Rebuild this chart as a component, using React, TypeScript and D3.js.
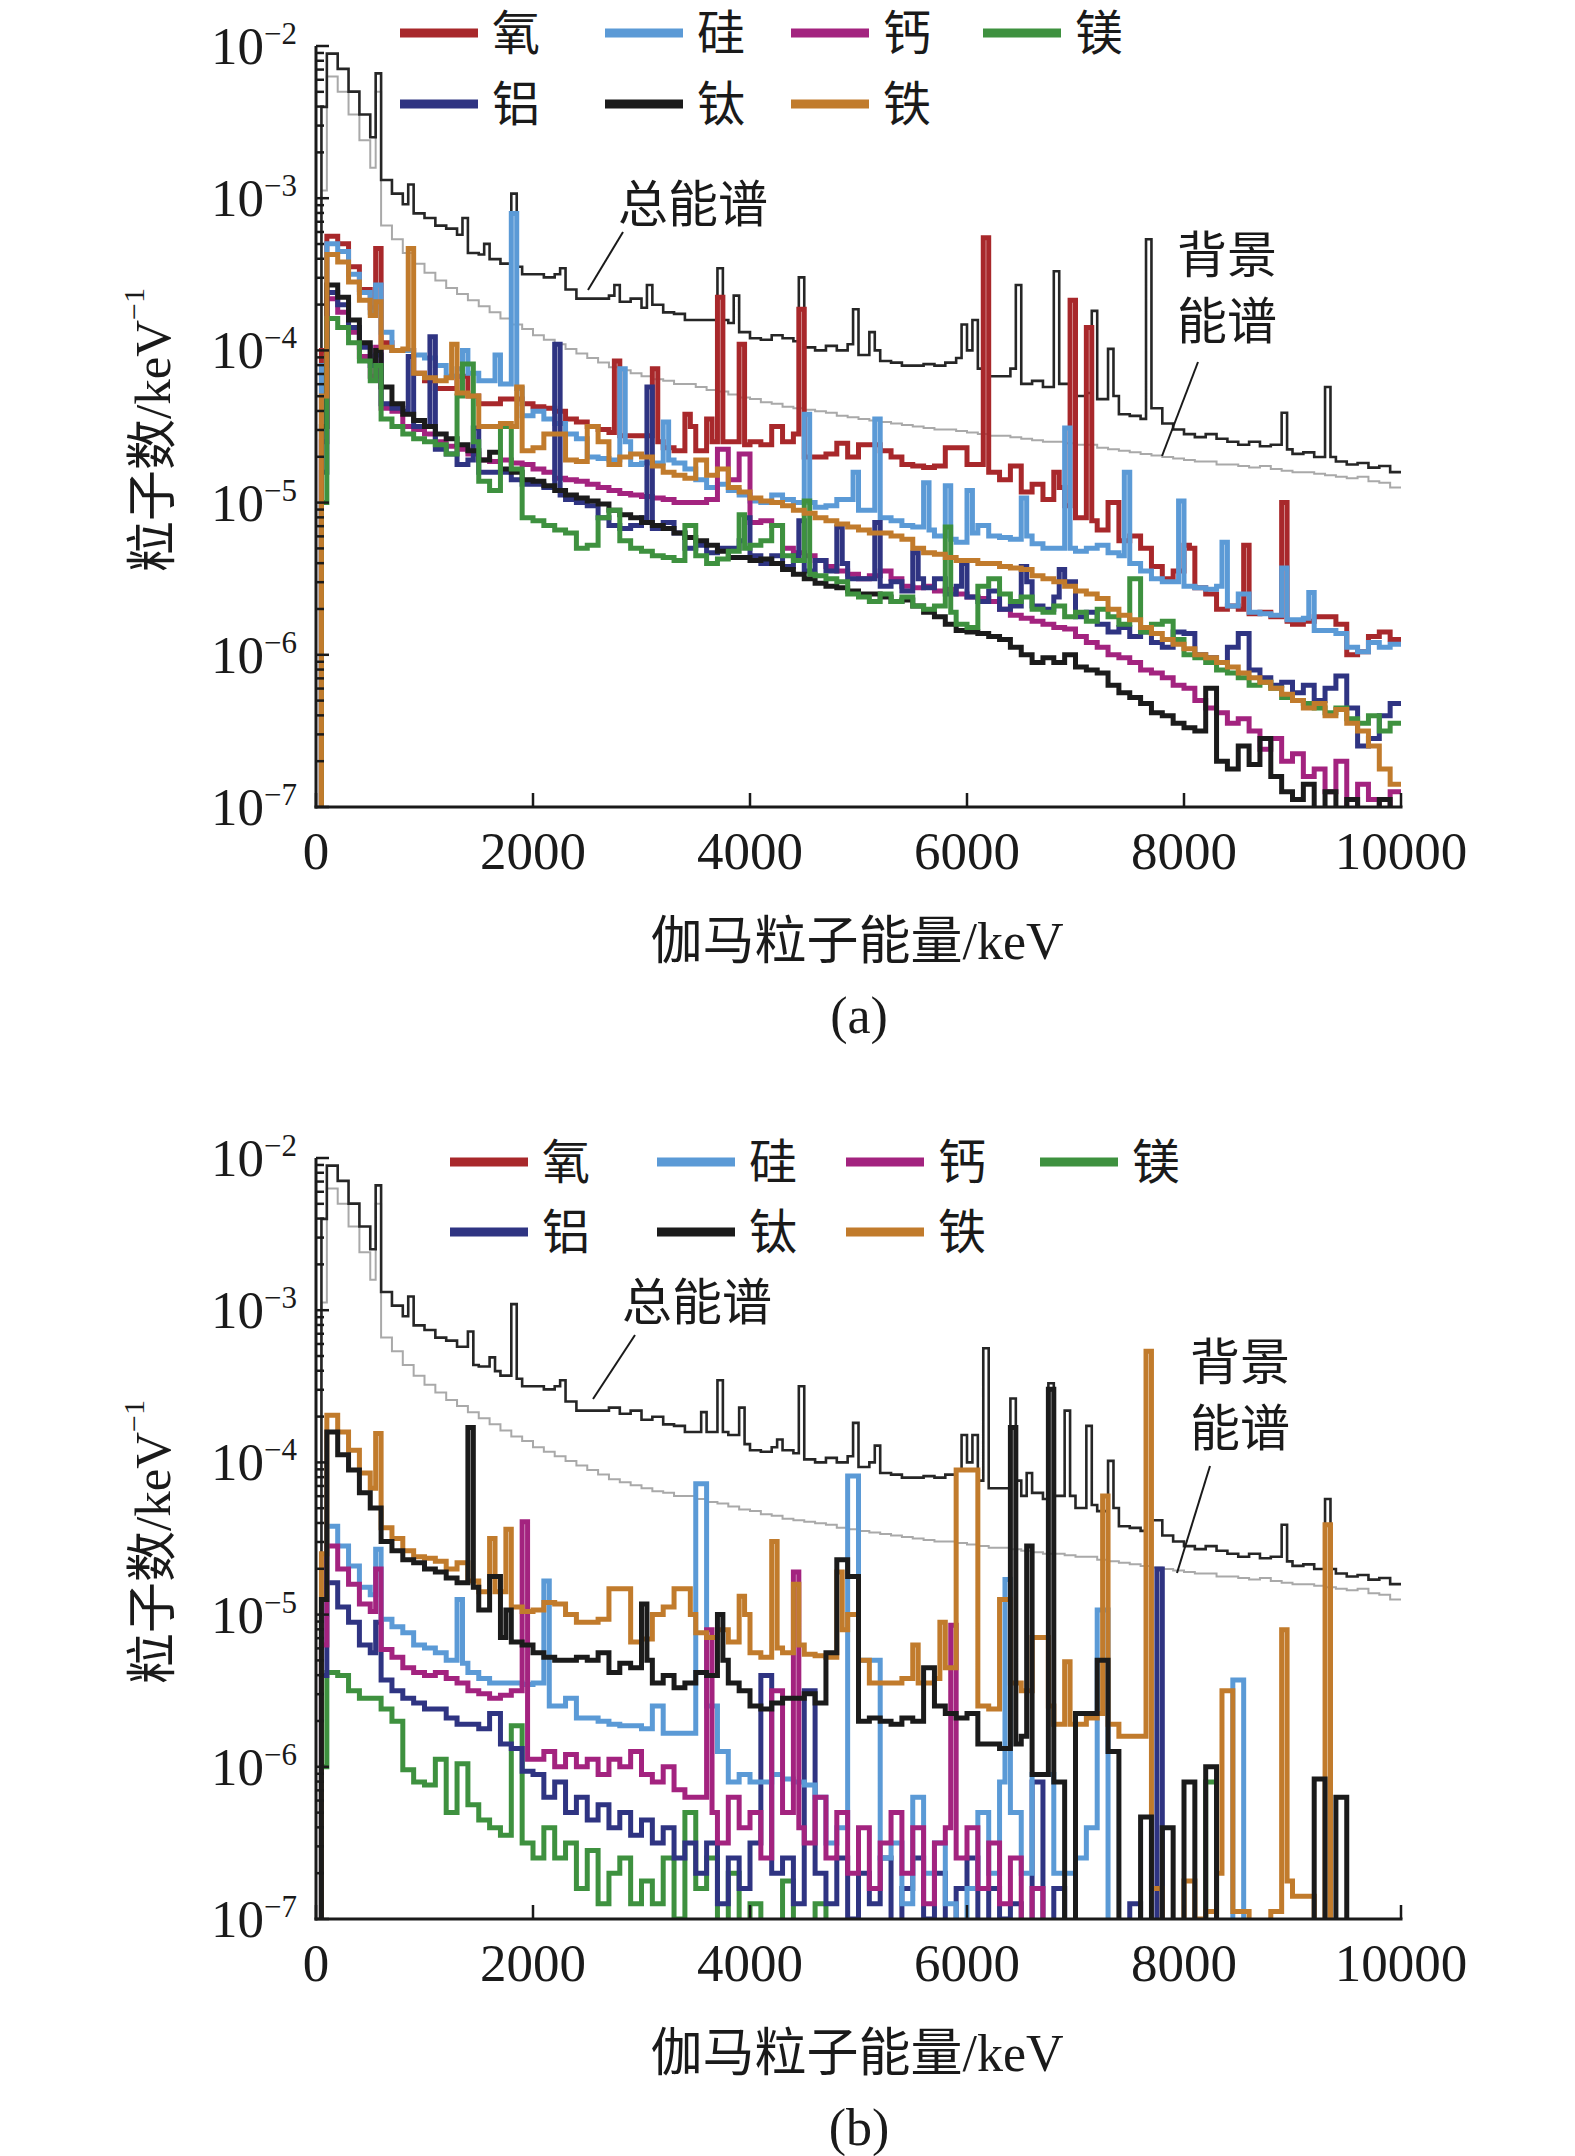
import * as d3 from 'd3'

// log10 of counts per keV, one value per 100 keV bin (0–10000 keV)
// peaks: [start keV, log10 value] for the narrow 50 keV lines

const TOTAL = [
  -7.5, -2.05, -2.15, -2.3, -2.45, -2.6, -2.88, -2.97, -3.04, -3.1,
  -3.13, -3.18, -3.2, -3.24, -3.36, -3.37, -3.4, -3.43, -3.45, -3.5,
  -3.5, -3.52, -3.5, -3.6, -3.66, -3.66, -3.66, -3.64, -3.68, -3.66,
  -3.72, -3.7, -3.75, -3.76, -3.8, -3.8, -3.8, -3.8, -3.82, -3.88,
  -3.92, -3.93, -3.9, -3.92, -3.94, -3.98, -4.0, -3.97, -4.0, -3.96,
  -4.03, -4.0, -4.07, -4.08, -4.1, -4.1, -4.09, -4.1, -4.08, -4.05,
  -4.0, -4.12, -4.17, -4.17, -4.12, -4.22, -4.2, -4.24, -4.22, -4.22,
  -4.3, -4.28, -4.32, -4.3, -4.42, -4.43, -4.45, -4.38, -4.48, -4.52,
  -4.55, -4.57, -4.55, -4.58, -4.6, -4.62, -4.6, -4.63, -4.62, -4.65,
  -4.68, -4.67, -4.7, -4.7, -4.73, -4.75, -4.74, -4.77, -4.76, -4.8,
]
const TOTAL_PEAKS_A = [
  [50, -2.4], [550, -2.18], [850, -2.91], [1350, -3.13], [1550, -3.3], [1800, -2.97],
  [2250, -3.46], [2750, -3.57], [3050, -3.57], [3700, -3.46], [3850, -3.64], [4450, -3.52],
  [4950, -3.73], [5100, -3.88], [5950, -3.83], [6050, -3.8], [6150, -3.26], [6450, -3.57],
  [6800, -3.48], [6950, -3.67], [7150, -3.74], [7300, -3.99], [7650, -3.27], [8900, -4.41],
  [9300, -4.24],
]
const TOTAL_PEAKS_B = [
  [50, -2.4], [550, -2.18], [850, -2.91], [1400, -3.14], [1600, -3.31], [1800, -2.96],
  [2250, -3.46], [3550, -3.67], [3700, -3.46], [3900, -3.64], [4250, -3.85], [4450, -3.5],
  [4950, -3.74], [5150, -3.89], [5950, -3.82], [6050, -3.82], [6150, -3.25], [6400, -3.58],
  [6550, -4.07], [6750, -3.48], [6900, -3.66], [7100, -3.76], [7300, -3.99], [7650, -3.27],
  [8900, -4.41], [9300, -4.24],
]

const BACKGROUND = [
  -7.5, -2.2, -2.3, -2.45, -2.62, -2.8, -3.18, -3.27, -3.36, -3.43,
  -3.49, -3.54, -3.59, -3.63, -3.67, -3.71, -3.75, -3.79, -3.83, -3.86,
  -3.9, -3.93, -3.96, -3.99, -4.02, -4.05, -4.08, -4.11, -4.13, -4.15,
  -4.17, -4.19, -4.2, -4.22, -4.22, -4.24, -4.26, -4.27, -4.29, -4.31,
  -4.32, -4.34, -4.35, -4.37, -4.38, -4.39, -4.4, -4.41, -4.43, -4.44,
  -4.45, -4.46, -4.47, -4.48, -4.49, -4.5, -4.51, -4.52, -4.52, -4.53,
  -4.54, -4.55, -4.56, -4.56, -4.57, -4.58, -4.59, -4.6, -4.6, -4.61,
  -4.62, -4.62, -4.64, -4.65, -4.66, -4.67, -4.68, -4.69, -4.7, -4.71,
  -4.72, -4.73, -4.73, -4.75, -4.75, -4.76, -4.77, -4.76, -4.78, -4.79,
  -4.8, -4.8, -4.81, -4.82, -4.83, -4.84, -4.83, -4.86, -4.87, -4.9,
]
const BACKGROUND_PEAKS = [[50, -2.95], [550, -2.3]]

// ---------- panel (a) ----------
const OXYGEN_A = [
  -7.5, -3.25, -3.3, -3.45, -3.6, -3.72, -3.95, -4.0, -4.0, -4.15,
  -4.2, -4.25, -4.25, -4.17, -4.3, -4.35, -4.35, -4.32, -4.32, -4.35,
  -4.37, -4.38, -4.4, -4.45, -4.47, -4.5, -4.52, -4.54, -4.56, -4.56,
  -4.56, -4.6, -4.64, -4.66, -4.5, -4.66, -4.6, -4.6, -4.6, -4.62,
  -4.6, -4.62, -4.5, -4.6, -4.55, -4.7, -4.7, -4.68, -4.61, -4.7,
  -4.62, -4.62, -4.66, -4.7, -4.75, -4.76, -4.77, -4.76, -4.64, -4.64,
  -4.75, -4.75, -4.8, -4.85, -4.76, -4.93, -4.88, -4.98, -4.9, -5.02,
  -5.1, -5.12, -5.18, -5.0, -5.25, -5.22, -5.3, -5.42, -5.5, -5.45,
  -5.3, -5.56, -5.6, -5.7, -5.68, -5.7, -5.73, -5.72, -5.75, -5.78,
  -5.8, -5.78, -5.75, -5.75, -5.8, -6.0, -5.98, -5.88, -5.85, -5.9,
]
const OXYGEN_A_PEAKS = [
  [50, -4.0], [550, -3.33], [2750, -4.07], [3100, -4.12], [3400, -4.42], [3600, -4.45],
  [3700, -3.65], [3900, -3.96], [4450, -3.73], [6150, -3.26], [6800, -4.8], [6950, -3.67],
  [7100, -3.85], [8000, -5.28], [8550, -5.28], [8900, -5.0],
]

const SILICON_A = [
  -7.5, -3.3, -3.35, -3.5, -3.62, -3.75, -3.88, -4.0, -4.0, -4.03,
  -4.05, -4.1, -4.17, -4.12, -4.15, -4.2, -4.2, -4.22, -4.25, -4.43,
  -4.4, -4.45, -4.48, -4.55, -4.58, -4.7, -4.71, -4.72, -4.6, -4.75,
  -4.74, -4.74, -4.72, -4.74, -4.78, -4.85, -4.9, -4.88, -4.92, -4.95,
  -4.99, -5.0, -4.95, -4.98, -5.0, -5.0, -5.03, -5.02, -4.98, -4.98,
  -5.05, -5.05, -5.1, -5.12, -5.15, -5.16, -5.18, -5.22, -5.24, -5.26,
  -5.2, -5.15, -5.22, -5.23, -5.24, -5.22, -5.27, -5.3, -5.3, -5.3,
  -5.32, -5.3, -5.28, -5.33, -5.35, -5.4, -5.45, -5.5, -5.52, -5.52,
  -5.55, -5.56, -5.57, -5.55, -5.68, -5.6, -5.72, -5.73, -5.74, -5.77,
  -5.77, -5.76, -5.84, -5.84, -5.86, -5.95, -5.98, -5.92, -5.95, -5.93,
]
const SILICON_A_PEAKS = [
  [50, -4.1], [550, -3.57], [1350, -4.0], [1650, -4.03], [1800, -3.1], [2800, -4.12],
  [3200, -4.47], [4500, -4.42], [4950, -4.8], [5150, -4.45], [5600, -4.87], [5800, -4.89],
  [6000, -4.92], [6500, -4.97], [6900, -4.51], [7450, -4.8], [7950, -4.99], [8350, -5.26],
  [8900, -5.43], [9150, -5.59],
]

const CALCIUM_A = [
  -7.5, -3.66, -3.75, -3.88, -4.04, -4.17, -4.38, -4.4, -4.5, -4.52,
  -4.55, -4.6, -4.63, -4.65, -4.68, -4.72, -4.73, -4.72, -4.74, -4.75,
  -4.78, -4.8, -4.84, -4.85, -4.86, -4.88, -4.9, -4.92, -4.94, -4.95,
  -4.96, -4.97, -4.98, -5.0, -5.0, -5.0, -4.98, -4.65, -4.85, -4.68,
  -5.13, -5.12, -5.15, -5.3, -5.33, -5.35, -5.38, -5.42, -5.45, -5.47,
  -5.5, -5.48, -5.45, -5.5, -5.55, -5.56, -5.55, -5.58, -5.57, -5.6,
  -5.62, -5.63, -5.65, -5.7, -5.74, -5.76, -5.78, -5.8, -5.82, -5.83,
  -5.88, -5.92, -5.95, -6.0, -6.02, -6.05, -6.1, -6.12, -6.15, -6.2,
  -6.22, -6.3, -6.35, -6.38, -6.45, -6.42, -6.5, -6.62, -6.55, -6.7,
  -6.65, -6.8, -6.75, -6.9, -6.7, -7.2, -6.85, -6.95, -7.2, -6.9,
]
const CALCIUM_A_PEAKS = [[50, -4.6], [550, -3.98]]

const MAGNESIUM_A = [
  -7.5, -3.79, -3.85, -3.95, -4.07, -4.2, -4.45, -4.5, -4.55, -4.58,
  -4.6, -4.62, -4.68, -4.3, -4.6, -4.86, -4.92, -4.5, -4.78, -5.1,
  -5.12, -5.15, -5.18, -5.2, -5.3, -5.28, -5.1, -5.05, -5.25, -5.3,
  -5.32, -5.35, -5.36, -5.38, -5.15, -5.35, -5.4, -5.37, -5.32, -5.3,
  -5.28, -5.25, -5.15, -5.35, -5.38, -5.47, -5.48, -5.5, -5.52, -5.6,
  -5.62, -5.65, -5.6, -5.65, -5.62, -5.68, -5.7, -5.68, -5.72, -5.8,
  -5.82, -5.55, -5.5, -5.6, -5.65, -5.62, -5.7, -5.72, -5.68, -5.75,
  -5.72, -5.78, -5.7, -5.75, -5.8, -5.5, -5.85, -5.8, -5.78, -5.9,
  -6.0, -6.02, -6.05, -6.1, -6.12, -6.15, -6.2, -6.18, -6.22, -6.28,
  -6.3, -6.32, -6.35, -6.38, -6.35, -6.42, -6.45, -6.4, -6.5, -6.45,
]
const MAGNESIUM_A_PEAKS = [
  [50, -5.0], [550, -4.1], [1350, -4.09], [1400, -4.09], [3900, -5.08], [4500, -4.99], [5800, -5.16],
]

const ALUMINIUM_A = [
  -7.5, -3.62, -3.7, -3.85, -3.98, -4.1, -4.35, -4.38, -4.4, -4.5,
  -4.5, -4.65, -4.68, -4.75, -4.72, -4.8, -4.8, -4.8, -4.85, -4.88,
  -4.88, -4.9, -4.95, -4.98, -5.0, -5.02, -5.1, -5.15, -5.17, -5.15,
  -5.1, -5.17, -5.13, -5.2, -5.3, -5.28, -5.33, -5.3, -5.3, -5.25,
  -5.35, -5.4, -5.35, -5.42, -5.35, -5.45, -5.38, -5.45, -5.4, -5.5,
  -5.5, -5.5, -5.55, -5.52, -5.58, -5.5, -5.56, -5.5, -5.6, -5.55,
  -5.62, -5.65, -5.58, -5.7, -5.68, -5.52, -5.68, -5.7, -5.62, -5.52,
  -5.75, -5.72, -5.8, -5.85, -5.82, -5.88, -5.85, -5.92, -5.95, -5.85,
  -5.86, -6.0, -6.02, -6.05, -5.95, -5.86, -6.1, -6.15, -6.2, -6.18,
  -6.25, -6.2, -6.3, -6.22, -6.14, -6.35, -6.6, -6.55, -6.4, -6.32,
]
const ALUMINIUM_A_PEAKS = [
  [50, -4.8], [550, -4.03], [850, -4.04], [1050, -3.91], [1450, -4.51], [2200, -3.96],
  [3050, -4.24], [3950, -5.1], [4450, -5.12], [4800, -5.16], [5150, -5.13], [5500, -5.33],
  [5950, -5.4], [6500, -5.42], [6850, -5.44],
]

const TITANIUM_A = [
  -7.5, -3.57, -3.65, -3.8, -3.95, -4.07, -4.24, -4.35, -4.42, -4.46,
  -4.5, -4.55, -4.58, -4.62, -4.66, -4.72, -4.67, -4.78, -4.8, -4.85,
  -4.86, -4.89, -4.92, -4.95, -4.97, -4.99, -5.01, -5.05, -5.08, -5.1,
  -5.13, -5.15, -5.17, -5.2, -5.23, -5.25, -5.28, -5.32, -5.36, -5.36,
  -5.38, -5.37, -5.4, -5.44, -5.47, -5.5, -5.53, -5.55, -5.56, -5.58,
  -5.6, -5.6, -5.62, -5.65, -5.64, -5.68, -5.72, -5.75, -5.8, -5.84,
  -5.85, -5.86, -5.88, -5.9, -5.95, -6.0, -6.05, -6.02, -6.05, -6.0,
  -6.08, -6.1, -6.12, -6.2, -6.25, -6.28, -6.32, -6.38, -6.4, -6.45,
  -6.48, -6.5, -6.22, -6.7, -6.75, -6.6, -6.72, -6.55, -6.8, -6.9,
  -6.95, -6.85, -7.2, -6.9, -7.2, -6.95, -7.2, -7.2, -6.95, -7.2,
]
const TITANIUM_A_PEAKS = [[50, -4.5], [550, -4.0]]

const IRON_A = [
  -7.5, -3.37, -3.42, -3.55, -3.67, -3.77, -3.98, -4.0, -3.99, -4.15,
  -4.18, -4.2, -4.18, -4.28, -4.3, -4.5, -4.5, -4.48, -4.5, -4.66,
  -4.64, -4.55, -4.55, -4.72, -4.73, -4.5, -4.6, -4.75, -4.7, -4.68,
  -4.7, -4.76, -4.8, -4.82, -4.84, -4.72, -4.82, -4.78, -4.9, -4.93,
  -4.97, -4.99, -5.0, -5.02, -5.05, -5.07, -5.1, -5.12, -5.14, -5.16,
  -5.18, -5.2, -5.2, -5.22, -5.24, -5.3, -5.33, -5.34, -5.36, -5.38,
  -5.38, -5.4, -5.4, -5.42, -5.43, -5.44, -5.48, -5.5, -5.52, -5.55,
  -5.58, -5.6, -5.63, -5.7, -5.74, -5.77, -5.82, -5.86, -5.9, -5.93,
  -5.96, -6.0, -6.02, -6.05, -6.08, -6.12, -6.15, -6.18, -6.22, -6.26,
  -6.3, -6.35, -6.32, -6.4, -6.36, -6.45, -6.5, -6.6, -6.75, -6.85,
]
const IRON_A_PEAKS = [[50, -4.3], [550, -3.68], [850, -3.33], [1250, -3.96], [1850, -4.24]]

// ---------- panel (b) ----------
const SILICON_B = [
  -7.5, -4.42, -4.55, -4.68, -4.82, -4.87, -5.03, -5.08, -5.12, -5.2,
  -5.22, -5.25, -5.3, -5.32, -5.38, -5.42, -5.45, -5.45, -5.45, -5.46,
  -5.45, -5.6, -5.6, -5.55, -5.68, -5.68, -5.7, -5.72, -5.73, -5.73,
  -5.75, -5.6, -5.78, -5.78, -5.78, -5.5, -5.6, -5.9, -6.1, -6.05,
  -6.1, -6.1, -6.05, -6.08, -6.1, -6.12, -6.2, -6.5, -6.4, -5.3,
  -5.3, -5.3, -6.6, -6.5, -6.9, -6.2, -6.7, -6.5, -6.9, -7.2,
  -6.8, -6.3, -6.7, -6.1, -6.3, -6.7, -6.05, -6.05, -6.7, -6.7,
  -6.6, -6.4, -7.3, -7.3, -7.3, -7.3, -7.3, -7.3, -7.3, -7.3,
  -7.3, -7.3, -7.3, -7.3, -7.3, -7.3, -7.3, -7.3, -7.3, -7.3,
  -7.3, -7.3, -7.3, -7.3, -7.3, -7.3, -7.3, -7.3, -7.3, -7.3,
]
const SILICON_B_PEAKS = [
  [50, -5.0], [550, -4.57], [1300, -4.9], [2100, -4.78], [3500, -4.14], [3550, -4.14],
  [4900, -4.09], [4950, -4.09], [6350, -4.77], [7200, -4.97], [7250, -4.97], [8450, -5.43],
  [8500, -5.43],
]

const CALCIUM_B = [
  -7.5, -4.55, -4.7, -4.8, -4.93, -4.98, -5.23, -5.28, -5.35, -5.38,
  -5.4, -5.38, -5.42, -5.45, -5.5, -5.52, -5.55, -5.53, -5.5, -5.95,
  -5.95, -5.9, -6.0, -5.92, -6.0, -5.95, -6.05, -5.95, -6.0, -5.9,
  -6.05, -6.1, -6.0, -6.15, -6.2, -6.2, -6.3, -6.5, -6.2, -6.4,
  -6.3, -6.6, -5.5, -6.3, -6.4, -6.5, -6.2, -6.6, -6.3, -6.7,
  -6.4, -6.8, -6.5, -6.3, -6.7, -6.4, -6.9, -6.5, -6.4, -6.6,
  -6.4, -6.8, -6.5, -6.9, -6.6, -7.3, -6.8, -7.3, -7.3, -7.3,
  -7.3, -7.3, -7.3, -7.3, -7.3, -7.3, -7.3, -7.3, -7.3, -7.3,
  -7.3, -7.3, -7.3, -7.3, -7.3, -7.3, -7.3, -7.3, -7.3, -7.3,
  -7.3, -7.3, -7.3, -7.3, -7.3, -7.3, -7.3, -7.3, -7.3, -7.3,
]
const CALCIUM_B_PEAKS = [[50, -5.2], [550, -4.7], [1900, -4.39], [3600, -5.1], [4400, -4.72], [5850, -5.07]]

const MAGNESIUM_B = [
  -7.5, -5.38, -5.4, -5.5, -5.55, -5.55, -5.62, -5.7, -6.02, -6.1,
  -6.12, -5.95, -6.3, -5.98, -6.25, -6.35, -6.4, -6.45, -5.73, -6.5,
  -6.6, -6.4, -6.6, -6.5, -6.8, -6.55, -6.9, -6.7, -6.6, -6.9,
  -6.75, -6.9, -6.6, -7.0, -6.3, -6.8, -6.6, -7.3, -6.7, -7.3,
  -6.9, -7.3, -7.3, -6.75, -7.3, -7.3, -6.9, -7.3, -7.3, -7.3,
  -7.3, -7.3, -7.3, -7.3, -7.3, -7.3, -7.3, -7.3, -7.3, -7.3,
  -7.3, -7.3, -7.3, -7.3, -7.3, -7.3, -7.3, -7.3, -7.3, -7.3,
  -7.3, -7.3, -7.3, -7.3, -7.3, -7.3, -7.3, -7.3, -7.3, -7.3,
  -7.3, -7.3, -6.1, -7.3, -7.3, -7.3, -7.3, -7.3, -7.3, -7.3,
  -7.3, -7.3, -7.3, -7.3, -7.3, -7.3, -7.3, -7.3, -7.3, -7.3,
]
const MAGNESIUM_B_PEAKS = [[50, -6.0]]

const ALUMINIUM_B = [
  -7.5, -4.79, -4.95, -5.05, -5.2, -5.25, -5.43, -5.5, -5.55, -5.58,
  -5.62, -5.62, -5.68, -5.72, -5.72, -5.75, -5.65, -5.85, -5.88, -6.03,
  -6.05, -6.2, -6.1, -6.3, -6.2, -6.35, -6.25, -6.4, -6.3, -6.45,
  -6.35, -6.5, -6.4, -6.6, -6.5, -6.7, -6.5, -6.9, -6.6, -6.8,
  -6.5, -5.4, -6.7, -6.6, -6.9, -5.5, -6.7, -6.9, -6.6, -7.0,
  -6.7, -6.9, -6.6, -7.3, -6.8, -6.6, -7.0, -6.7, -7.3, -6.8,
  -6.6, -7.3, -6.8, -7.0, -6.9, -7.3, -6.1, -7.3, -6.8, -7.3,
  -7.3, -7.3, -7.3, -7.3, -7.3, -6.9, -7.3, -7.3, -7.3, -7.3,
  -7.3, -7.3, -7.3, -7.3, -7.3, -7.3, -7.3, -7.3, -7.3, -7.3,
  -7.3, -7.3, -7.3, -7.3, -7.3, -7.3, -7.3, -7.3, -7.3, -7.3,
]
const ALUMINIUM_B_PEAKS = [[50, -5.4], [550, -5.05], [7750, -4.7]]

const TITANIUM_B = [
  -7.5, -3.8, -3.95, -4.05, -4.2, -4.3, -4.52, -4.58, -4.64, -4.66,
  -4.7, -4.72, -4.76, -4.79, -4.82, -4.97, -4.75, -5.15, -5.18, -5.2,
  -5.25, -5.28, -5.3, -5.3, -5.28, -5.3, -5.25, -5.38, -5.32, -5.35,
  -5.3, -5.45, -5.4, -5.48, -5.45, -5.38, -5.4, -5.3, -5.45, -5.5,
  -5.6, -5.62, -5.58, -5.55, -5.55, -5.52, -5.58, -5.25, -4.64, -4.75,
  -5.7, -5.68, -5.7, -5.72, -5.68, -5.7, -5.35, -5.6, -5.65, -5.68,
  -5.65, -5.85, -5.85, -5.88, -5.85, -5.8, -6.05, -6.05, -6.1, -7.3,
  -5.65, -5.65, -5.3, -5.9, -7.3, -7.3, -6.33, -7.3, -6.4, -7.3,
  -6.1, -7.3, -6.0, -7.3, -7.3, -7.3, -7.3, -7.3, -7.3, -7.3,
  -7.3, -7.3, -6.08, -7.3, -6.2, -7.3, -7.3, -7.3, -7.3, -7.3,
]
const TITANIUM_B_PEAKS = [
  [50, -4.9], [1400, -3.77], [1750, -4.97], [3000, -4.93], [3700, -5.0], [6400, -3.77],
  [6550, -4.55], [6750, -3.52],
]

const IRON_B = [
  -7.5, -3.69, -3.8, -3.92, -4.07, -4.17, -4.43, -4.5, -4.58, -4.62,
  -4.63, -4.65, -4.7, -4.66, -4.78, -4.85, -4.85, -4.85, -4.95, -4.98,
  -4.97, -4.92, -4.93, -5.0, -5.05, -5.05, -5.03, -4.83, -4.83, -5.18,
  -5.16, -5.0, -4.95, -4.83, -5.0, -5.12, -5.15, -5.1, -5.18, -5.0,
  -5.25, -5.28, -5.22, -5.25, -5.2, -5.26, -5.27, -5.28, -5.1, -5.0,
  -5.3, -5.45, -5.45, -5.45, -5.42, -5.45, -5.45, -5.42, -5.35, -4.05,
  -4.05, -5.6, -5.62, -4.9, -5.45, -5.5, -5.15, -5.6, -5.72, -5.72,
  -5.72, -5.68, -5.65, -5.72, -5.8, -5.8, -6.8, -6.8, -7.2, -7.2,
  -6.75, -7.0, -6.95, -6.7, -6.95, -6.95, -7.3, -7.3, -6.95, -6.75,
  -6.85, -6.85, -7.2, -7.3, -7.5, -7.5, -7.5, -7.5, -7.5, -7.5,
]
const IRON_B_PEAKS = [
  [50, -4.6], [550, -3.81], [1600, -4.5], [1750, -4.44], [3400, -4.83], [3900, -4.88],
  [4200, -4.52], [4400, -4.8], [4800, -4.72], [5500, -5.2], [5750, -5.05], [6700, -5.15],
  [6900, -5.31], [7250, -4.22], [7600, -5.8], [7650, -3.27], [8350, -5.5], [8400, -5.5],
  [8900, -5.1], [9300, -4.41],
]

const X_TICKS = [0, 2000, 4000, 6000, 8000, 10000]
const Y_EXPONENTS = [-7, -6, -5, -4, -3, -2]
const ROW1 = ['氧', '硅', '钙', '镁']
const ROW2 = ['铝', '钛', '铁']

const COLORS: Record<string, string> = {
  氧: '#a8282b',
  硅: '#5b9ad6',
  钙: '#a3237f',
  镁: '#3e913f',
  铝: '#2f3482',
  钛: '#1b1b1b',
  铁: '#c17b2c',
}

const FONT = "'Liberation Serif', 'Times New Roman', 'Noto Sans CJK SC', serif"
const LEFT = 316
const RIGHT = 1401
const PLOT_H = 761

type Pt = [number, number]

// expand 100 keV bins to 50 keV steps, peak bins override
function steps(base: number[], peaks: number[][]): Pt[] {
  const pk = new Map(peaks.map(p => [p[0], p[1]] as [number, number]))
  const pts: Pt[] = []
  for (let k = 0; k < base.length * 2; k++) {
    const e = k * 50
    pts.push([e, pk.has(e) ? (pk.get(e) as number) : base[Math.floor(k / 2)]])
  }
  pts.push([10000, pts[pts.length - 1][1]])
  return pts
}

interface Series { name: string; base: number[]; peaks: number[][] }

interface PanelProps {
  id: string
  top: number
  series: Series[]
  totalPeaks: number[][]
  legendX: number[]
  legendY: number[]
  totalNote: { x: number; y: number; line: number[] }
  bgNote: { x: number; y: number; line: number[] }
  label: string
}

function Panel(p: PanelProps) {
  const bottom = p.top + PLOT_H
  const x = d3.scaleLinear().domain([0, 10000]).range([LEFT, RIGHT])
  const y = d3.scaleLog().domain([1e-7, 1e-2]).range([bottom, p.top])
  const line = d3
    .line<Pt>()
    .x(d => x(d[0]))
    .y(d => y(Math.pow(10, d[1])))
    .curve(d3.curveStepAfter)

  const yTicks = y.ticks()
  const isMajor = (v: number) => Math.abs(Math.log10(v) - Math.round(Math.log10(v))) < 1e-6

  return (
    <g>
      <defs>
        <clipPath id={p.id}>
          <rect x={LEFT} y={p.top - 10} width={RIGHT - LEFT + 4} height={PLOT_H + 10} />
        </clipPath>
      </defs>

      <g clipPath={`url(#${p.id})`} fill="none" strokeLinejoin="miter">
        <path d={line(steps(BACKGROUND, BACKGROUND_PEAKS)) || ''} stroke="#a9a9a9" strokeWidth={2} />
        <path d={line(steps(TOTAL, p.totalPeaks)) || ''} stroke="#262626" strokeWidth={2.6} />
        {p.series.map(s => (
          <path key={s.name} d={line(steps(s.base, s.peaks)) || ''} stroke={COLORS[s.name]} strokeWidth={5} />
        ))}
      </g>

      {/* axes */}
      <line x1={LEFT} x2={LEFT} y1={p.top} y2={bottom + 1.5} stroke="#1a1a1a" strokeWidth={3} />
      <line x1={LEFT - 1.5} x2={RIGHT + 1.5} y1={bottom} y2={bottom} stroke="#1a1a1a" strokeWidth={3} />
      {yTicks.map(v => (
        <line
          key={v}
          x1={LEFT}
          x2={LEFT + (isMajor(v) ? 13 : 8)}
          y1={y(v)}
          y2={y(v)}
          stroke="#1a1a1a"
          strokeWidth={2.5}
        />
      ))}
      {X_TICKS.map(t => (
        <g key={t}>
          <line x1={x(t)} x2={x(t)} y1={bottom} y2={bottom - 14} stroke="#1a1a1a" strokeWidth={2.5} />
          <text x={x(t)} y={bottom + 62} textAnchor="middle" fontSize={53} fill="#1a1a1a">
            {t}
          </text>
        </g>
      ))}
      {Y_EXPONENTS.map(n => (
        <text key={n} x={297} y={y(Math.pow(10, n)) + 18} textAnchor="end" fontSize={53} fill="#1a1a1a">
          10
          <tspan dy={-20} fontSize={31}>
            {'\u2212' + Math.abs(n)}
          </tspan>
        </text>
      ))}

      <text
        transform={`translate(153,${p.top + 384}) rotate(-90)`}
        textAnchor="middle"
        dominantBaseline="central"
        fontSize={51}
        fill="#1a1a1a"
      >
        粒子数/keV
        <tspan dy={-20} fontSize={30}>
          {'\u22121'}
        </tspan>
      </text>
      <text x={857} y={bottom + 152} textAnchor="middle" fontSize={52} fill="#1a1a1a">
        伽马粒子能量/keV
      </text>
      <text x={859} y={bottom + 226} textAnchor="middle" fontSize={52} fill="#1a1a1a">
        {p.label}
      </text>

      {/* legend */}
      {[ROW1, ROW2].map((row, r) =>
        row.map((name, c) => (
          <g key={name}>
            <line
              x1={p.legendX[c]}
              x2={p.legendX[c] + 78}
              y1={p.legendY[r]}
              y2={p.legendY[r]}
              stroke={COLORS[name]}
              strokeWidth={9}
            />
            <text
              x={p.legendX[c] + 92}
              y={p.legendY[r]}
              dominantBaseline="central"
              fontSize={48}
              fill="#1a1a1a"
            >
              {name}
            </text>
          </g>
        ))
      )}

      {/* annotations */}
      <text x={p.totalNote.x} y={p.totalNote.y} fontSize={50} fill="#1a1a1a">
        总能谱
      </text>
      <line
        x1={p.totalNote.line[0]}
        y1={p.totalNote.line[1]}
        x2={p.totalNote.line[2]}
        y2={p.totalNote.line[3]}
        stroke="#1a1a1a"
        strokeWidth={2}
      />
      <text x={p.bgNote.x} y={p.bgNote.y} fontSize={50} fill="#1a1a1a">
        背景
      </text>
      <text x={p.bgNote.x} y={p.bgNote.y + 66} fontSize={50} fill="#1a1a1a">
        能谱
      </text>
      <line
        x1={p.bgNote.line[0]}
        y1={p.bgNote.line[1]}
        x2={p.bgNote.line[2]}
        y2={p.bgNote.line[3]}
        stroke="#1a1a1a"
        strokeWidth={2}
      />
    </g>
  )
}

export default function App() {
  const seriesA: Series[] = [
    { name: '氧', base: OXYGEN_A, peaks: OXYGEN_A_PEAKS },
    { name: '硅', base: SILICON_A, peaks: SILICON_A_PEAKS },
    { name: '钙', base: CALCIUM_A, peaks: CALCIUM_A_PEAKS },
    { name: '铝', base: ALUMINIUM_A, peaks: ALUMINIUM_A_PEAKS },
    { name: '钛', base: TITANIUM_A, peaks: TITANIUM_A_PEAKS },
    { name: '镁', base: MAGNESIUM_A, peaks: MAGNESIUM_A_PEAKS },
    { name: '铁', base: IRON_A, peaks: IRON_A_PEAKS },
  ]
  const seriesB: Series[] = [
    { name: '镁', base: MAGNESIUM_B, peaks: MAGNESIUM_B_PEAKS },
    { name: '铝', base: ALUMINIUM_B, peaks: ALUMINIUM_B_PEAKS },
    { name: '硅', base: SILICON_B, peaks: SILICON_B_PEAKS },
    { name: '钙', base: CALCIUM_B, peaks: CALCIUM_B_PEAKS },
    { name: '铁', base: IRON_B, peaks: IRON_B_PEAKS },
    { name: '钛', base: TITANIUM_B, peaks: TITANIUM_B_PEAKS },
  ]

  return (
    <svg
      width={1575}
      height={2156}
      style={{ position: 'absolute', left: 0, top: 0, background: '#fff' }}
      fontFamily={FONT}
    >
      <rect width={1575} height={2156} fill="#fff" />
      <Panel
        id="clipA"
        top={46}
        series={seriesA}
        totalPeaks={TOTAL_PEAKS_A}
        legendX={[400, 605, 791, 983]}
        legendY={[33, 104]}
        totalNote={{ x: 618, y: 222, line: [623, 232, 588, 290] }}
        bgNote={{ x: 1177, y: 273, line: [1198, 362, 1162, 456] }}
        label="(a)"
      />
      <Panel
        id="clipB"
        top={1158}
        series={seriesB}
        totalPeaks={TOTAL_PEAKS_B}
        legendX={[450, 657, 846, 1040]}
        legendY={[1162, 1232]}
        totalNote={{ x: 622, y: 1320, line: [635, 1335, 593, 1399] }}
        bgNote={{ x: 1190, y: 1380, line: [1210, 1466, 1177, 1573] }}
        label="(b)"
      />
    </svg>
  )
}
